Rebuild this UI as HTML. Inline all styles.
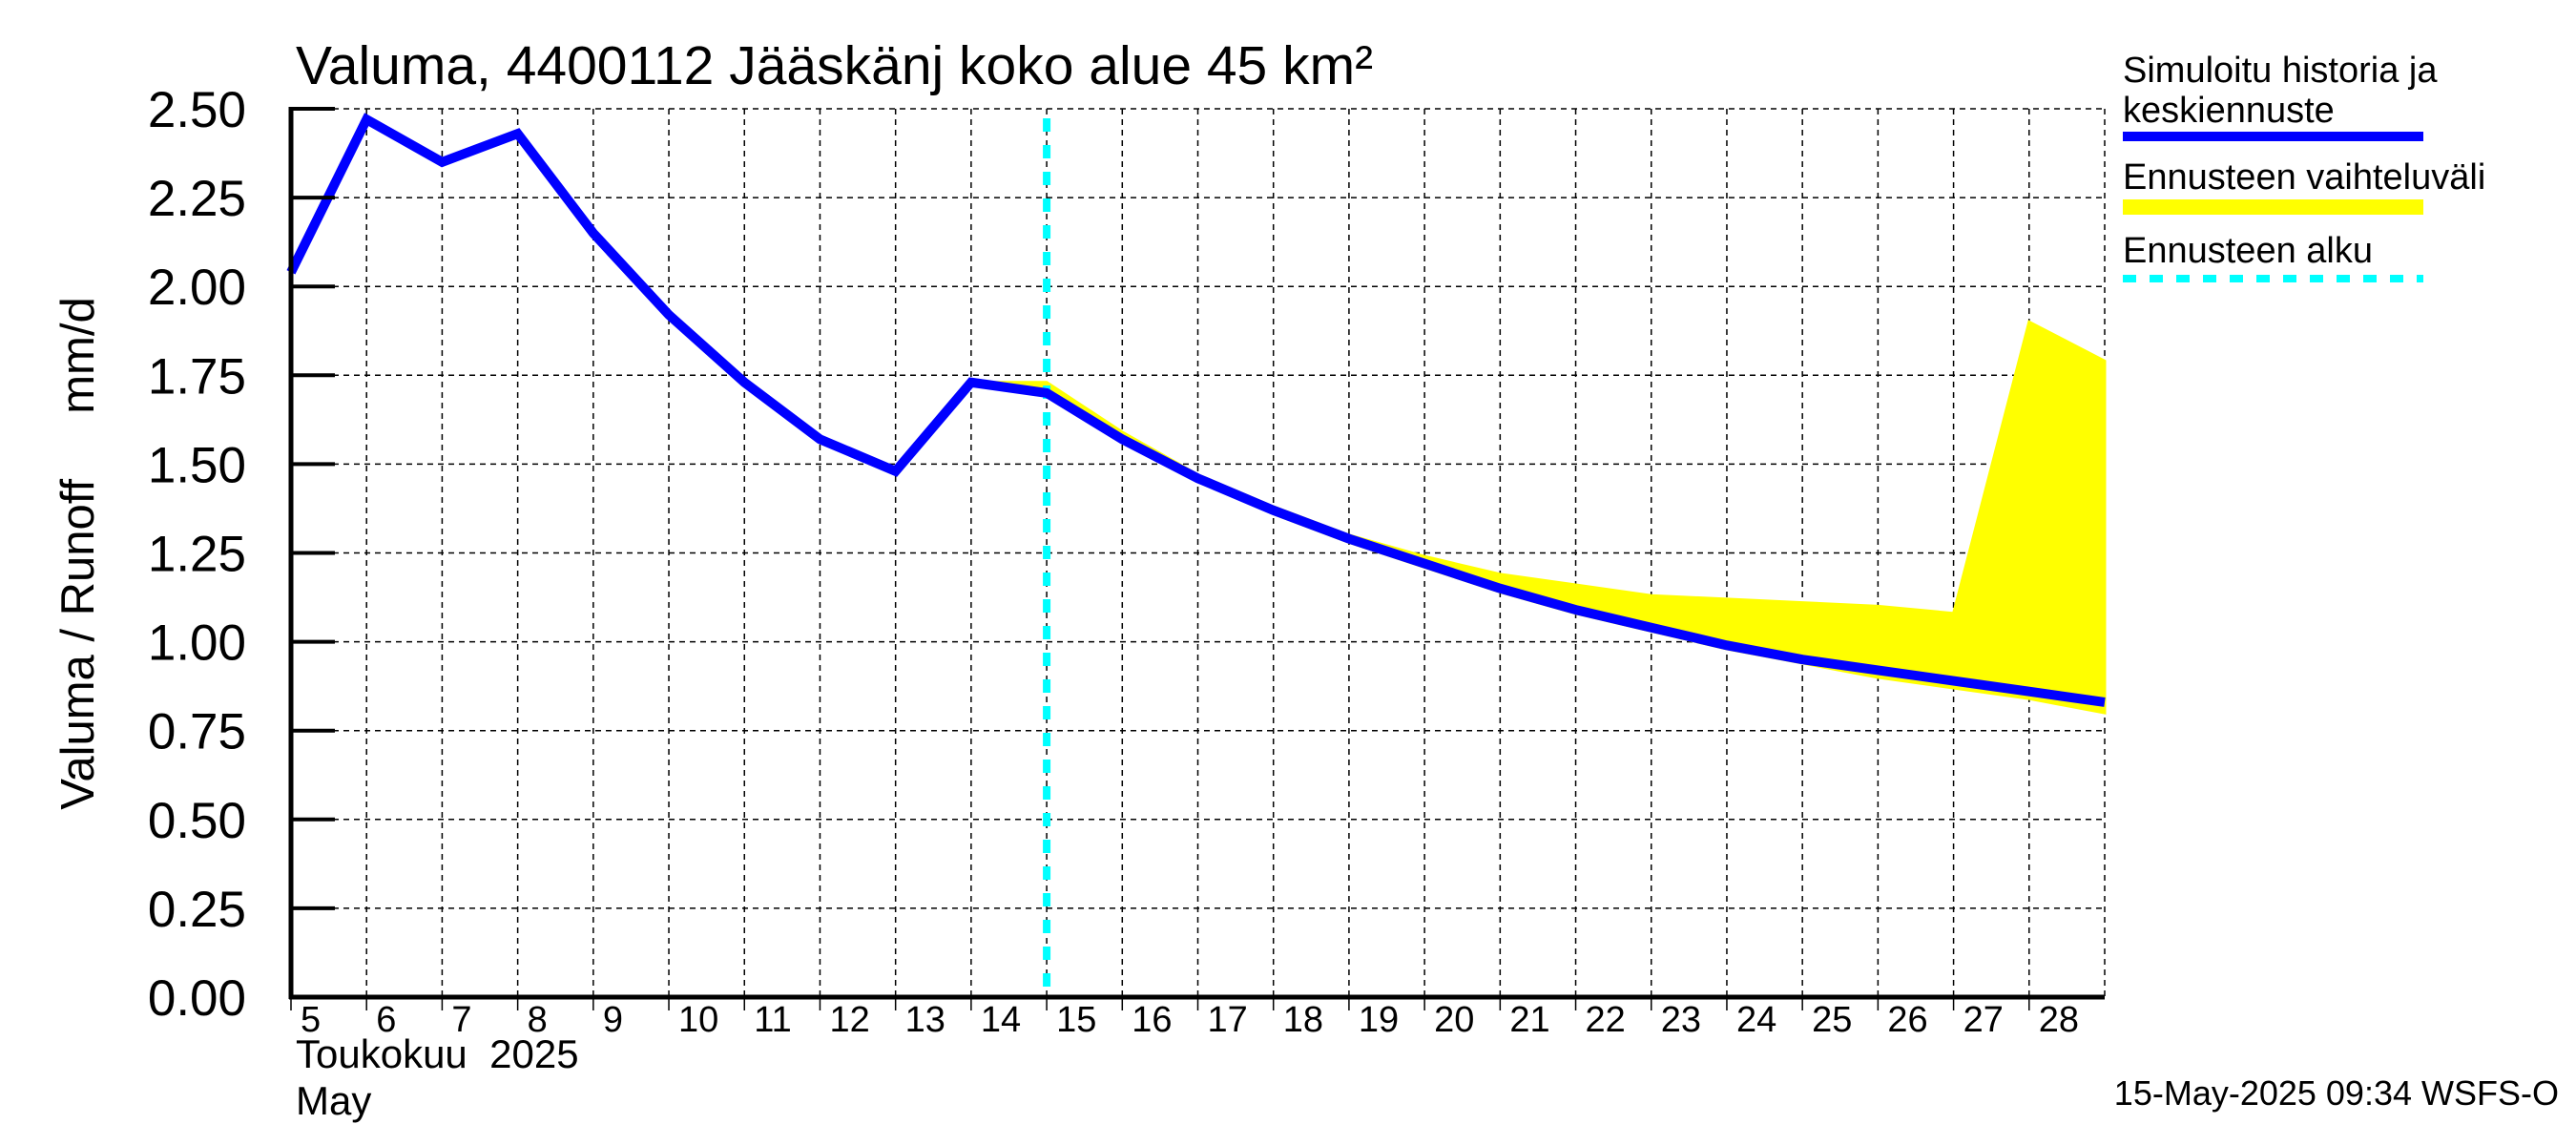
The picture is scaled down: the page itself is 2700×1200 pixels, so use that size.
<!DOCTYPE html>
<html><head><meta charset="utf-8"><style>
html,body{margin:0;padding:0;background:#fff;}
svg{display:block;font-family:"Liberation Sans",Arial,sans-serif;}
</style></head><body>
<svg id="chart" width="2700" height="1200" viewBox="0 0 2700 1200" xmlns="http://www.w3.org/2000/svg">
<g id="grid"></g>
<g id="band"></g>
<g id="series"></g>
<g id="axes"></g>
<text x="310" y="88" font-size="57">Valuma, 4400112 Jääskänj koko alue 45 km²</text>
<text transform="translate(98,580) rotate(-90)" text-anchor="middle" font-size="49" xml:space="preserve">Valuma / Runoff     mm/d</text>
<text x="310" y="1119" font-size="42" xml:space="preserve">Toukokuu  2025</text>
<text x="310" y="1168" font-size="42">May</text>
<text x="2682" y="1158" text-anchor="end" font-size="36">15-May-2025 09:34 WSFS-O</text>
<g>
<text x="2225" y="86" font-size="38">Simuloitu historia ja</text>
<text x="2225" y="128" font-size="38">keskiennuste</text>
<line x1="2225" y1="143" x2="2540" y2="143" stroke="#0000ff" stroke-width="10"/>
<text x="2225" y="198" font-size="38">Ennusteen vaihteluväli</text>
<line x1="2225" y1="217" x2="2540" y2="217" stroke="#ffff00" stroke-width="16"/>
<text x="2225" y="275" font-size="38">Ennusteen alku</text>
<line x1="2225" y1="292" x2="2540" y2="292" stroke="#00ffff" stroke-width="8" stroke-dasharray="14,14"/>
</g>
</svg>
<script>
const days = [5,6,7,8,9,10,11,12,13,14,15,16,17,18,19,20,21,22,23,24,25,26,27,28,29];
const dayLabels = ["5","6","7","8","9","10","11","12","13","14","15","16","17","18","19","20","21","22","23","24","25","26","27","28"];
const simulated = [2.04,2.47,2.35,2.43,2.15,1.92,1.73,1.57,1.48,1.73,1.70,1.57,1.46,1.37,1.29,1.22,1.15,1.09,1.04,0.99,0.95,0.92,0.89,0.86,0.83];
const bandDays = [14,15,16,17,18,19,20,21,22,23,24,25,26,27,28,29];
const bandUpper = [1.73,1.73,1.59,1.47,1.38,1.30,1.24,1.19,1.16,1.13,1.12,1.11,1.10,1.08,1.90,1.79];
const bandLower = [1.73,1.70,1.57,1.46,1.36,1.28,1.21,1.14,1.08,1.03,0.98,0.94,0.90,0.87,0.84,0.80];
const yTicks = [0,0.25,0.5,0.75,1.0,1.25,1.5,1.75,2.0,2.25,2.5];
const yTickLabels = ["0.00","0.25","0.50","0.75","1.00","1.25","1.50","1.75","2.00","2.25","2.50"];
const forecastStart = 15;

const X0=305,X1=2206,Y0=1045,Y1=114,DMIN=5,DMAX=29,VMAX=2.5;
const xs=d=>X0+(d-DMIN)/(DMAX-DMIN)*(X1-X0);
const ys=v=>Y0-v/VMAX*(Y0-Y1);
const NS="http://www.w3.org/2000/svg";
function mk(tag,parent,attrs){const e=document.createElementNS(NS,tag);for(const k in attrs)e.setAttribute(k,attrs[k]);parent.appendChild(e);return e;}
const grid=document.getElementById('grid'),axes=document.getElementById('axes'),band=document.getElementById('band'),series=document.getElementById('series');

for(let d=DMIN+1;d<=DMAX;d++){
  const l=mk('line',grid,{x1:xs(d),y1:Y1,x2:xs(d),y2:Y0,stroke:'#000','stroke-width':1.5,'stroke-dasharray':'6,5'});
  
  
}
yTicks.forEach((v,i)=>{
  if(v>0){const l=mk('line',grid,{x1:X0,y1:ys(v),x2:X1,y2:ys(v),stroke:'#000','stroke-width':1.5,'stroke-dasharray':'6,5'});
  
  }
  const t=mk('line',axes,{x1:X0,y1:ys(v),x2:X0+46,y2:ys(v),stroke:'#000','stroke-width':4});
  
  
  const tx=mk('text',axes,{x:258,y:ys(v)+19,'text-anchor':'end','font-size':53});
  tx.textContent=yTickLabels[i];
  
  
});
dayLabels.forEach((lab,i)=>{
  const d=days[i];
  const t=mk('line',axes,{x1:xs(d),y1:Y0,x2:xs(d),y2:Y0+14,stroke:'#000','stroke-width':1.5});
  
  
  const tx=mk('text',axes,{x:xs(d)+10,y:1081,'font-size':38});
  tx.textContent=lab;
  
  
});
const ya=mk('line',axes,{x1:X0,y1:Y1-2,x2:X0,y2:Y0+2,stroke:'#000','stroke-width':5});


const xa=mk('line',axes,{x1:X0-2,y1:Y0,x2:X1,y2:Y0,stroke:'#000','stroke-width':5});



let pts=bandDays.map((d,i)=>xs(d)+','+ys(bandUpper[i]));
for(let i=bandDays.length-1;i>=0;i--)pts.push(xs(bandDays[i])+','+ys(bandLower[i]));
const poly=mk('polygon',band,{points:pts.join(' '),fill:'#ffff00',stroke:'#ffff00','stroke-width':3});



const fl=mk('line',series,{x1:xs(forecastStart),y1:Y1+10,x2:xs(forecastStart),y2:Y0,stroke:'#00ffff','stroke-width':8,'stroke-dasharray':'14,14'});



const sl=mk('polyline',series,{points:days.map((d,i)=>xs(d)+','+ys(simulated[i])).join(' '),fill:'none',stroke:'#0000ff','stroke-width':10,'stroke-linejoin':'miter'});


</script>
</body></html>
